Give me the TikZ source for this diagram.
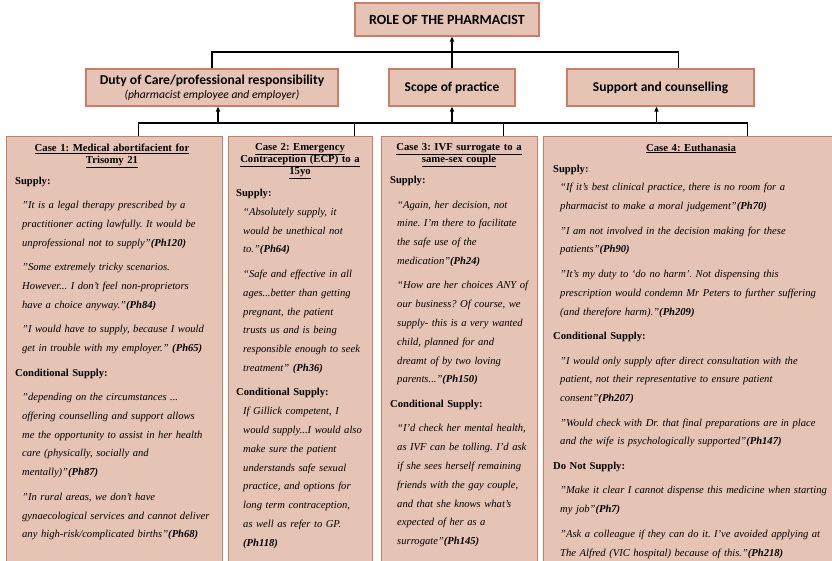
\documentclass[tikz,border=0pt]{standalone}
\usepackage{fontspec}
\setmainfont{Liberation Serif}
\newfontfamily\boxfont{Carlito}
\usepackage{xcolor}
\usetikzlibrary{arrows.meta, positioning}

\definecolor{boxfill}{HTML}{E6C4B5}
\definecolor{boxline}{HTML}{C87E69}

\frenchspacing
\newcommand\casefont{\fontsize{10.6}{18.8}\selectfont\setlength{\parskip}{5.7pt}}
\newcommand\casehead[1]{{\bfseries #1\par}}
\newcommand\quoteblock[1]{{\leftskip=7pt\itshape #1\par}}

\begin{document}
\begin{tikzpicture}[
x=1pt, y=-1pt,
every node/.append style = {inner sep=0pt},
topbox/.style = {draw=boxline, fill=boxfill, line width=1.1pt,
                 font=\boxfont\bfseries, align=center},
casebox/.style = {draw=boxline, fill=boxfill, line width=1.1pt,
                  anchor=north west, minimum height=440pt},
casetitle/.style = {anchor=north, align=center, text width=200pt,
                    font=\fontsize{10.7}{12}\selectfont\bfseries},
casetext/.style = {anchor=north west, align=left, text width=290pt,
                   font=\casefont},
conn/.style = {draw, line width=1.3pt},
arrowline/.style = {conn, -{Triangle[length=5pt,width=4pt]}},
                        ]
\useasboundingbox (0,0) rectangle (832,561);
\clip (0,0) rectangle (832,561);
% top of the tree
\node (role) [topbox, minimum width=184pt, minimum height=33pt,
              font=\boxfont\bfseries\fontsize{14}{16}\selectfont] at (447,19.5)
      {ROLE OF THE PHARMACIST};
\node (duty) [topbox, minimum width=252pt, minimum height=37pt] at (212,87.5)
      {{\fontsize{13.6}{15}\selectfont Duty of Care/professional responsibility}\\[2pt]
       {\fontsize{11.6}{13}\selectfont\mdseries\itshape (pharmacist employee and employer)}};
\node (scope) [topbox, minimum width=126pt, minimum height=37pt,
               font=\boxfont\bfseries\fontsize{13.4}{15}\selectfont] at (452,87.5)
      {Scope of practice};
\node (support) [topbox, minimum width=187pt, minimum height=37pt,
                 font=\boxfont\bfseries\fontsize{13.5}{15}\selectfont] at (660.5,87.5)
      {Support and counselling};
% the four cases
\node (c1) [casebox, minimum width=216pt] at (6,136) {};
\node (c2) [casebox, minimum width=144pt] at (228,136) {};
\node (c3) [casebox, minimum width=156pt] at (381,136) {};
\node (c4) [casebox, minimum width=300pt] at (543,136) {};
% connectors
\coordinate (hub) at (452,52);
\coordinate (bus) at (452,123);
\draw[conn] (duty.north) |- (hub) -| ([xshift=18pt]support.north);
\draw[arrowline] (scope.north) -- (scope.north |- role.south);
\draw[conn] ([xshift=24pt]c1.north) |- (bus) -| ([xshift=54pt]c4.north);
\path ([xshift=54pt]c2.north) coordinate (c2top)
      ([xshift=44pt]c3.north) coordinate (c3top);
\draw[conn] (c2top) -- (c2top |- bus);
\draw[conn] (c3top) -- (c3top |- bus);
\draw[arrowline] ([xshift=6pt]duty.south |- bus) -- ([xshift=6pt]duty.south);
\draw[arrowline] (scope.south |- bus) -- (scope.south);
\draw[arrowline] ([xshift=-4pt]support.south |- bus) -- ([xshift=-4pt]support.south);
% case titles
\node (t1) [casetitle] at (112,143.5)
      {\underline{Case 1: Medical abortifacient for}\\\underline{Trisomy 21}};
\node (t2) [casetitle, text width=140pt] at (300,143.5)
      {\underline{Case 2: Emergency}\\\underline{Contraception (ECP) to a}\\\underline{15yo}};
\node (t3) [casetitle, text width=150pt] at (459,143.5)
      {\underline{Case 3: IVF surrogate to a}\\\underline{same-sex couple}};
\node (t4) [casetitle] at (691,143.5)
      {\underline{Case 4: Euthanasia}};
% case texts
\node (b1) [casetext] at (15,176.5) {%
\casehead{Supply:}
\quoteblock{"It is a legal therapy prescribed by a\\ practitioner acting lawfully. It would be\\ unprofessional not to supply"\textbf{(Ph120)}}
\quoteblock{"Some extremely tricky scenarios.\\ However... I don't feel non-proprietors\\ have a choice anyway."\textbf{(Ph84)}}
\quoteblock{"I would have to supply, because I would\\ get in trouble with my employer." \textbf{(Ph65)}}
\casehead{Conditional Supply:}
\quoteblock{"depending on the circumstances ...\\ offering counselling and support allows\\ me the opportunity to assist in her health\\ care (physically, socially and\\ mentally)"\textbf{(Ph87)}}
\quoteblock{"In rural areas, we don't have\\ gynaecological services and cannot deliver\\ any high-risk/complicated births"\textbf{(Ph68)}}};
\node (b2) [casetext] at (236,189) {%
\casehead{Supply:}\vspace{-5.7pt}
\quoteblock{“Absolutely supply, it\\ would be unethical not\\ to."\textbf{(Ph64)}}
\quoteblock{“Safe and effective in all\\ ages...better than getting\\ pregnant, the patient\\ trusts us and is being\\ responsible enough to seek\\ treatment" \textbf{(Ph36)}}
\casehead{Conditional Supply:}\vspace{-5.7pt}
\quoteblock{If Gillick competent, I\\ would supply...I would also\\ make sure the patient\\ understands safe sexual\\ practice, and options for\\ long term contraception,\\ as well as refer to GP.\\ \textbf{(Ph118)}}};
\node (b3) [casetext] at (390,176) {%
\casehead{Supply:}
\quoteblock{“Again, her decision, not\\ mine. I'm there to facilitate\\ the safe use of the\\ medication"\textbf{(Ph24)}}
\quoteblock{“How are her choices ANY of\\ our business? Of course, we\\ supply- this is a very wanted\\ child, planned for and\\ dreamt of by two loving\\ parents..."\textbf{(Ph150)}}
\casehead{Conditional Supply:}
\quoteblock{“I'd check her mental health,\\ as IVF can be tolling. I'd ask\\ if she sees herself remaining\\ friends with the gay couple,\\ and that she knows what's\\ expected of her as a\\ surrogate"\textbf{(Ph145)}}};
\node (b4) [casetext] at (553,164.5) {%
\casehead{Supply:}\vspace{-5.7pt}
\quoteblock{“If it's best clinical practice, there is no room for a\\ pharmacist to make a moral judgement"\textbf{(Ph70)}}
\quoteblock{"I am not involved in the decision making for these\\ patients"\textbf{(Ph90)}}
\quoteblock{"It's my duty to ‘do no harm'. Not dispensing this\\ prescription would condemn Mr Peters to further suffering\\ (and therefore harm)."\textbf{(Ph209)}}
\casehead{Conditional Supply:}
\quoteblock{"I would only supply after direct consultation with the\\ patient, not their representative to ensure patient\\ consent"\textbf{(Ph207)}}
\quoteblock{"Would check with Dr. that final preparations are in place\\ and the wife is psychologically supported"\textbf{(Ph147)}}
\casehead{Do Not Supply:}
\quoteblock{"Make it clear I cannot dispense this medicine when starting\\ my job"\textbf{(Ph7)}}
\quoteblock{"Ask a colleague if they can do it. I've avoided applying at\\ The Alfred (VIC hospital) because of this."\textbf{(Ph218)}}};
\end{tikzpicture}
\end{document}
